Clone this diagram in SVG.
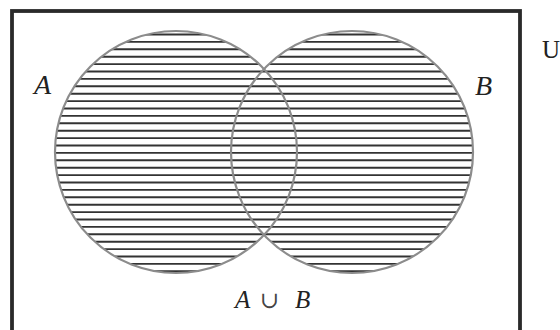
<svg xmlns="http://www.w3.org/2000/svg" width="560" height="330" viewBox="0 0 560 330">
<style>
.hatch line{stroke:#333;stroke-width:1.9}
.set{fill:none;stroke:#8c8c8c;stroke-width:2.2}
.lbl{font-family:"Liberation Serif","Times New Roman",serif;fill:#222}
.it{font-style:italic}
.cup{font-family:"DejaVu Serif",serif;fill:#444}
</style>
<defs>
<clipPath id="union">
<circle cx="176" cy="152" r="121"/>
<circle cx="352" cy="152" r="121"/>
</clipPath>
</defs>
<rect width="560" height="330" fill="#fff"/>
<g id="universe">
<rect x="12" y="11" width="508" height="340" fill="none" stroke="#2a2a2a" stroke-width="3.8"/>
<text class="lbl" x="542" y="58" font-size="25">U</text>
</g>
<g id="hatching" class="hatch" clip-path="url(#union)">
<line x1="50" y1="34.5" x2="480" y2="34.5"/>
<line x1="50" y1="41.9" x2="480" y2="41.9"/>
<line x1="50" y1="49.3" x2="480" y2="49.3"/>
<line x1="50" y1="56.7" x2="480" y2="56.7"/>
<line x1="50" y1="64.1" x2="480" y2="64.1"/>
<line x1="50" y1="71.5" x2="480" y2="71.5"/>
<line x1="50" y1="78.9" x2="480" y2="78.9"/>
<line x1="50" y1="86.3" x2="480" y2="86.3"/>
<line x1="50" y1="93.7" x2="480" y2="93.7"/>
<line x1="50" y1="101.1" x2="480" y2="101.1"/>
<line x1="50" y1="108.5" x2="480" y2="108.5"/>
<line x1="50" y1="115.9" x2="480" y2="115.9"/>
<line x1="50" y1="123.3" x2="480" y2="123.3"/>
<line x1="50" y1="130.7" x2="480" y2="130.7"/>
<line x1="50" y1="138.1" x2="480" y2="138.1"/>
<line x1="50" y1="145.5" x2="480" y2="145.5"/>
<line x1="50" y1="152.9" x2="480" y2="152.9"/>
<line x1="50" y1="160.3" x2="480" y2="160.3"/>
<line x1="50" y1="167.7" x2="480" y2="167.7"/>
<line x1="50" y1="175.1" x2="480" y2="175.1"/>
<line x1="50" y1="182.5" x2="480" y2="182.5"/>
<line x1="50" y1="189.9" x2="480" y2="189.9"/>
<line x1="50" y1="197.3" x2="480" y2="197.3"/>
<line x1="50" y1="204.7" x2="480" y2="204.7"/>
<line x1="50" y1="212.1" x2="480" y2="212.1"/>
<line x1="50" y1="219.5" x2="480" y2="219.5"/>
<line x1="50" y1="226.9" x2="480" y2="226.9"/>
<line x1="50" y1="234.3" x2="480" y2="234.3"/>
<line x1="50" y1="241.7" x2="480" y2="241.7"/>
<line x1="50" y1="249.1" x2="480" y2="249.1"/>
<line x1="50" y1="256.5" x2="480" y2="256.5"/>
<line x1="50" y1="263.9" x2="480" y2="263.9"/>
<line x1="50" y1="271.3" x2="480" y2="271.3"/>
</g>
<g id="setA">
<circle class="set" cx="176" cy="152" r="121"/>
<text class="lbl it" x="34" y="94" font-size="28">A</text>
</g>
<g id="setB">
<circle class="set" cx="352" cy="152" r="121"/>
<text class="lbl it" x="475" y="95" font-size="28">B</text>
</g>
<g id="caption" class="lbl" font-size="25">
<text class="it" x="235" y="308">A</text>
<text class="cup" x="260" y="308" font-size="23">∪</text>
<text class="it" x="295" y="308">B</text>
</g>
</svg>
